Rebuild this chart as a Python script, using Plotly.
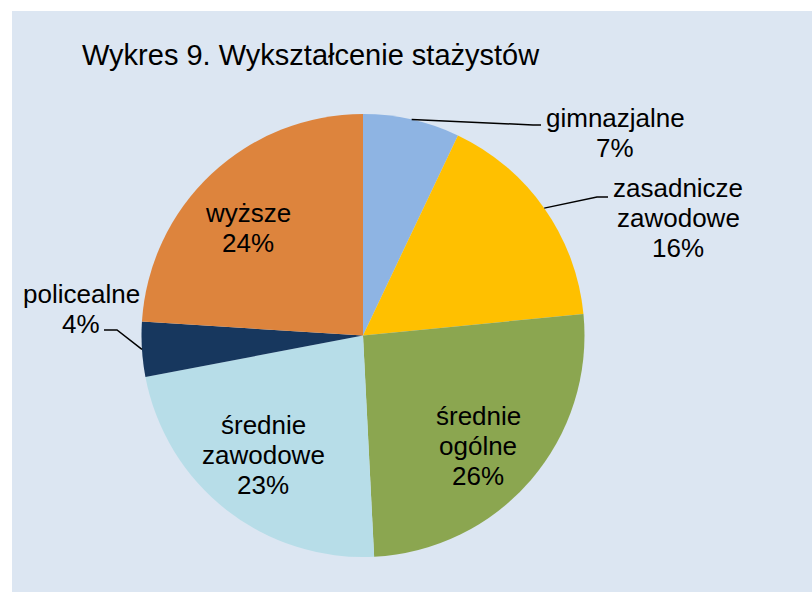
import math
import plotly.graph_objects as go

W, H = 812, 592

# ---- data (slice sizes; labels show rounded %) ----
categories = ["gimnazjalne", "zasadnicze zawodowe", "średnie ogólne",
              "średnie zawodowe", "policealne", "wyższe"]
values = [7.05, 16.4, 25.75, 22.8, 4.0, 24.0]
label_lines = [["gimnazjalne", "7%"], ["zasadnicze", "zawodowe", "16%"],
               ["średnie", "ogólne", "26%"], ["średnie", "zawodowe", "23%"],
               ["policealne", "4%"], ["wyższe", "24%"]]
colors = ["#8EB4E3", "#FFC000", "#8BA650", "#B7DDE8", "#17375E", "#DD843D"]
title_text = "Wykres 9. Wykształcenie stażystów"

# ---- layout geometry (pixels) ----
cx, cy, R = 363, 335.5, 221.5
label_pos = [(615, 133), (678, 218), (478, 446), (263, 455), (81, 309), (248, 228)]
line_gap = 30
# leader-line elbow points (only for outside labels)
elbows = {0: [(533, 125), (541, 125)],
          1: [(597, 197), (608, 197)],
          4: [(117, 330), (104, 330)]}

def px(x):
    return x / W

def py(y):
    return 1 - y / H

font = "Liberation Sans, Arial, sans-serif"

fig = go.Figure()
fig.add_trace(go.Pie(
    labels=categories, values=values, sort=False, direction="clockwise",
    rotation=0, marker=dict(colors=colors, line=dict(width=0)),
    textinfo="none", hoverinfo="label+percent", showlegend=False,
    domain=dict(x=[px(cx - R), px(cx + R)], y=[py(cy + R), py(cy - R)]),
))

shapes = [dict(type="rect", xref="paper", yref="paper", x0=px(12), x1=1,
               y0=0, y1=py(11), fillcolor="#DCE6F2", line=dict(width=0),
               layer="below")]

total = sum(values)
cum = 0
for i, v in enumerate(values):
    mid = (cum + v / 2) / total * 2 * math.pi
    cum += v
    if i in elbows:
        ex = cx + R * math.sin(mid)
        ey = cy - R * math.cos(mid)
        pts = [(ex, ey)] + elbows[i]
        path = "M " + " L ".join(f"{px(x)},{py(y)}" for x, y in pts)
        shapes.append(dict(type="path", xref="paper", yref="paper", path=path,
                           line=dict(color="black", width=1.5)))

annotations = [dict(text=title_text, x=px(80), y=py(55), xref="paper", yref="paper",
                    xanchor="left", yanchor="middle", showarrow=False,
                    font=dict(family=font, size=29, color="black"))]
for lines, (lx, ly) in zip(label_lines, label_pos):
    n = len(lines)
    for k, t in enumerate(lines):
        yk = ly + (k - (n - 1) / 2) * line_gap
        annotations.append(dict(text=t, x=px(lx), y=py(yk), xref="paper", yref="paper",
                                xanchor="center", yanchor="middle", showarrow=False,
                                font=dict(family=font, size=26, color="black")))

fig.update_layout(width=W, height=H, margin=dict(l=0, r=0, t=0, b=0),
                  paper_bgcolor="white", plot_bgcolor="white",
                  shapes=shapes, annotations=annotations)
fig.write_html("out.html", config={"displayModeBar": False},
               post_script="document.body.style.margin='0';document.body.style.padding='0';")
